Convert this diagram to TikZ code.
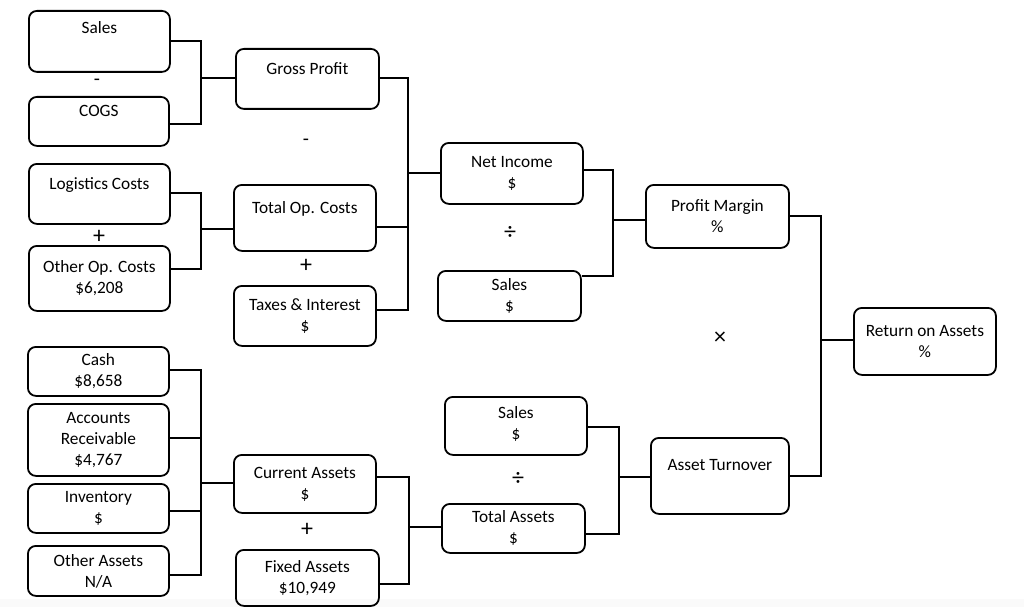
\documentclass[tikz,border=0pt]{standalone}
\usepackage{fontspec}
\setmainfont{Carlito}
\begin{document}
\begin{tikzpicture}[x=1pt,y=-1pt,
  box/.style={draw=black, line width=1.8pt, rounded corners=8pt, align=center,
    anchor=north west, inner sep=0pt, font=\fontsize{17.3}{21}\selectfont},
  conn/.style={draw=black, line width=1.8pt},
  op/.style={font=\fontsize{20}{22}\selectfont, inner sep=0pt},
  bigop/.style={font=\fontsize{24}{26}\selectfont, inner sep=0pt}]
\useasboundingbox (0,0) rectangle (1024,607);
\fill[black!2] (0,599) rectangle (1024,607);
% boxes: (x,y) top-left, width, height
\newcommand\mybox[6]{\node[box, minimum width=#4, minimum height=#5] (#1) at (#2,#3) {#6};}
\mybox{sales}{28}{10}{141}{61}{Sales\\[7pt]\mbox{}}
\mybox{cogs}{28}{96}{140}{49}{COGS\\\mbox{}}
\mybox{logi}{28}{163}{141}{60}{Logistics Costs\\\mbox{}}
\mybox{otherop}{28}{245}{141}{65}{Other Op. Costs\\\$6,208}
\mybox{gross}{235}{48}{143}{60}{Gross Profit\\\mbox{}}
\mybox{totop}{233}{184}{142}{66}{Total Op. Costs\\\mbox{}}
\mybox{taxes}{233}{285}{142}{60}{Taxes \& Interest\\\$}
\mybox{netinc}{440}{142}{142}{61}{Net Income\\\$}
\mybox{salesb}{437}{270}{143}{50}{Sales\\\$}
\mybox{pm}{645}{184}{143}{63}{Profit Margin\\\%}
\mybox{roa}{853}{307}{142}{67}{Return on Assets\\\%}
\mybox{cash}{27}{346}{141}{49}{Cash\\\$8,658}
\mybox{ar}{27}{403}{141}{72}{Accounts\\Receivable\\\$4,767}
\mybox{inv}{27}{483}{141}{49}{Inventory\\\$}
\mybox{otha}{27}{545}{141}{50}{Other Assets\\N/A}
\mybox{ca}{233}{454}{142}{58}{Current Assets\\\$}
\mybox{fa}{235}{549}{143}{56}{Fixed Assets\\\$10,949}
\mybox{salesc}{444}{396}{142}{58}{Sales\\\$\\[-15pt]\mbox{}}
\mybox{ta}{441}{503}{143}{49}{Total Assets\\\$}
\mybox{at}{650}{437}{138}{76}{Asset Turnover\\\mbox{}}
% junction coordinates
\coordinate (j1) at (201,78);
\coordinate (j2) at (201,229);
\coordinate (j3) at (408,173);
\coordinate (j4) at (613,220);
\coordinate (j5) at (821,340);
\coordinate (j6) at (201,483);
\coordinate (j7) at (409,527);
\coordinate (j8) at (619,477);
% connectors
\draw[conn] (sales.east |- 0,41) -| (j1) |- (cogs.east |- 0,124);
\draw[conn] (j1) -- (gross.west |- j1);
\draw[conn] (logi.east |- 0,193) -| (j2) |- (otherop.east |- 0,269);
\draw[conn] (j2) -- (totop.west |- j2);
\draw[conn] (gross.east |- 0,78) -| (j3) |- (taxes.east |- 0,310);
\draw[conn] (totop.east |- 0,227) -- (j3 |- 0,227);
\draw[conn] (j3) -- (netinc.west |- j3);
\draw[conn] (netinc.east |- 0,170) -| (j4) |- (salesb.east |- 0,276);
\draw[conn] (j4) -- (pm.west |- j4);
\draw[conn] (pm.east |- 0,216) -| (j5) |- (at.east |- 0,476);
\draw[conn] (j5) -- (roa.west |- j5);
\draw[conn] (cash.east |- 0,370) -| (j6) |- (otha.east |- 0,575);
\draw[conn] (ar.east |- 0,438) -- (j6 |- 0,438);
\draw[conn] (inv.east |- 0,511) -- (j6 |- 0,511);
\draw[conn] (j6) -- (ca.west |- j6);
\draw[conn] (ca.east |- 0,477) -| (j7) |- (fa.east |- 0,584);
\draw[conn] (j7) -- (ta.west |- j7);
\draw[conn] (salesc.east |- 0,427) -| (j8) |- (ta.east |- 0,534);
\draw[conn] (j8) -- (at.west |- j8);
% operators
\node[op] (o1) at (97,82) {-};
\node[op] (o2) at (306,142) {-};
\node[bigop] (o3) at (99,237) {+};
\node[bigop] (o4) at (306,266) {+};
\node[bigop] (o5) at (510,233) {÷};
\node[bigop] (o6) at (720,338) {×};
\node[bigop] (o7) at (518,479) {÷};
\node[bigop] (o8) at (307,530) {+};
\end{tikzpicture}
\end{document}
